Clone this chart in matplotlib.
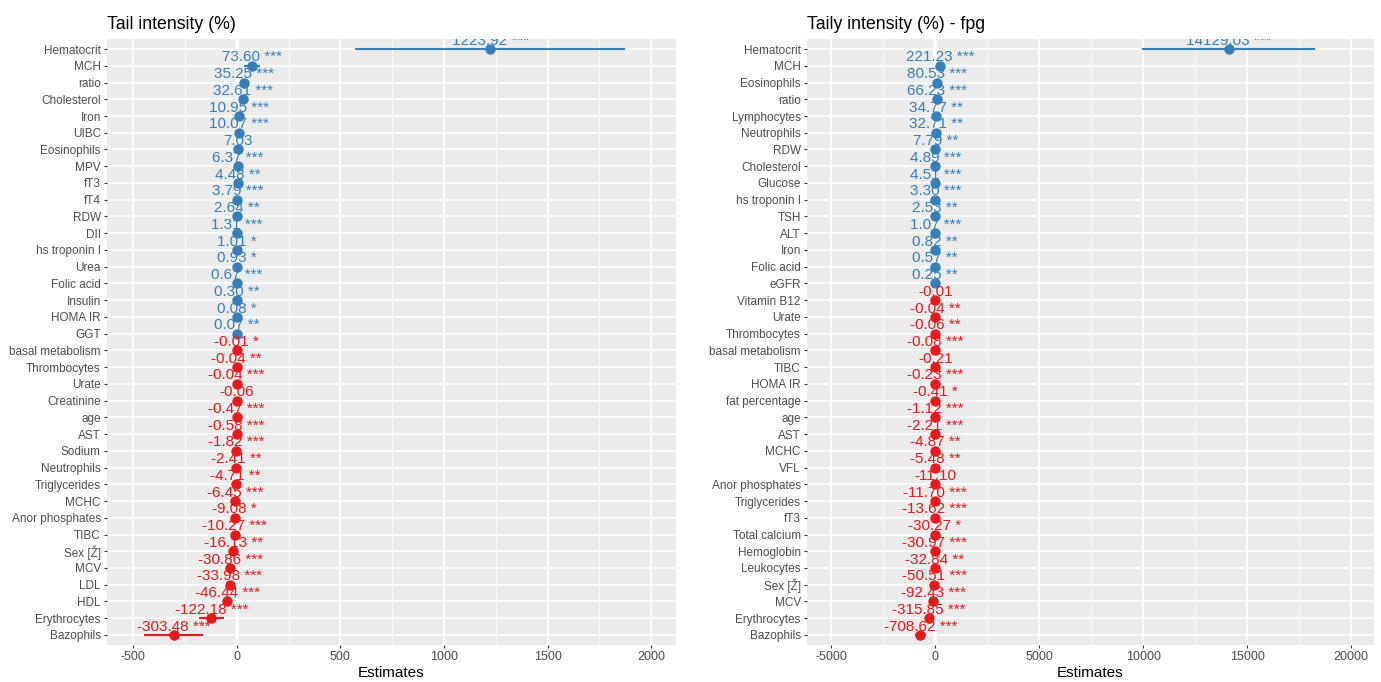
"""
Forest plots of regression estimates for tail intensity models.
"""

import matplotlib
matplotlib.use('Agg')
import matplotlib.pyplot as plt
from matplotlib.ticker import MultipleLocator

CLR_POS = '#377EB8'
CLR_NEG = '#E41A1C'
CLR_BG = '#EBEBEB'
CLR_TICK = '#4D4D4D'

plt.rcParams['font.family'] = ['Liberation Sans', 'DejaVu Sans']
plt.rcParams['axes.unicode_minus'] = False

# ── Tail intensity (%) ─────────────────────────────────────────
terms_tail = [
    'Hematocrit', 'MCH', 'ratio', 'Cholesterol', 'Iron', 'UIBC', 'Eosinophils',
    'MPV', 'fT3', 'fT4', 'RDW', 'DII', 'hs troponin I', 'Urea', 'Folic acid',
    'Insulin', 'HOMA IR', 'GGT', 'basal metabolism', 'Thrombocytes', 'Urate',
    'Creatinine', 'age', 'AST', 'Sodium', 'Neutrophils', 'Triglycerides',
    'MCHC', 'Anor phosphates', 'TIBC', 'Sex [Ž]', 'MCV', 'LDL', 'HDL',
    'Erythrocytes', 'Bazophils',
]
est_tail = [
    1223.92, 73.60, 35.25, 32.61, 10.95, 10.07, 7.03, 6.37, 4.48, 3.79, 2.64,
    1.31, 1.01, 0.93, 0.67, 0.30, 0.08, 0.07, -0.01, -0.04, -0.04, -0.06,
    -0.47, -0.58, -1.82, -2.41, -4.71, -6.45, -9.08, -10.27, -16.13, -30.86,
    -33.98, -46.44, -122.18, -303.48,
]
lo_tail = [
    571.0, 36.5, 20.1, 17.8, 5.2, 4.8, -1.2, 3.5, 1.6, 2.0, 0.9, 0.7, 0.1,
    0.1, 0.4, 0.1, 0.01, 0.02, -0.02, -0.07, -0.06, -0.13, -0.65, -0.85,
    -2.6, -4.0, -7.8, -9.5, -17.3, -14.6, -26.9, -44.1, -47.9, -66.0,
    -181.0, -446.0,
]
hi_tail = [
    1873.0, 110.7, 50.4, 47.4, 16.7, 15.3, 15.3, 9.2, 7.4, 5.6, 4.4, 1.9, 1.9,
    1.8, 0.9, 0.5, 0.15, 0.12, -0.00, -0.01, -0.02, 0.01, -0.29, -0.31,
    -1.0, -0.8, -1.6, -3.4, -0.9, -5.9, -5.4, -17.6, -20.1, -26.9,
    -63.0, -161.0,
]
stars_tail = [
    '***', '***', '***', '***', '***', '***', '', '***', '**', '***', '**',
    '***', '*', '*', '***', '**', '*', '**', '*', '**', '***', '',
    '***', '***', '***', '**', '**', '***', '*', '***', '**', '***',
    '***', '***', '***', '***',
]

# ── Taily intensity (%) - fpg ──────────────────────────────────
terms_fpg = [
    'Hematocrit', 'MCH', 'Eosinophils', 'ratio', 'Lymphocytes', 'Neutrophils',
    'RDW', 'Cholesterol', 'Glucose', 'hs troponin I', 'TSH', 'ALT', 'Iron',
    'Folic acid', 'eGFR', 'Vitamin B12', 'Urate', 'Thrombocytes',
    'basal metabolism', 'TIBC', 'HOMA IR', 'fat percentage', 'age', 'AST',
    'MCHC', 'VFL', 'Anor phosphates', 'Triglycerides', 'fT3', 'Total calcium',
    'Hemoglobin', 'Leukocytes', 'Sex [Ž]', 'MCV', 'Erythrocytes', 'Bazophils',
]
est_fpg = [
    14129.03, 221.23, 80.53, 66.23, 34.77, 32.71, 7.79, 4.89, 4.51, 3.30,
    2.53, 1.07, 0.82, 0.57, 0.25, -0.01, -0.04, -0.06, -0.08, -0.21, -0.23,
    -0.41, -1.12, -2.21, -4.87, -5.48, -11.10, -11.70, -13.62, -30.27,
    -30.97, -32.84, -50.51, -92.43, -315.85, -708.62,
]
lo_fpg = [
    9930.0, 110.0, 35.0, 30.0, 12.0, 11.0, 2.6, 2.7, 2.3, 1.9, 0.8, 0.6, 0.3,
    0.2, 0.08, -0.02, -0.07, -0.10, -0.12, -0.45, -0.34, -0.78, -1.6, -3.0,
    -8.1, -9.2, -24.5, -17.0, -19.8, -56.8, -45.2, -54.1, -74.3, -131.5,
    -452.0, -980.0,
]
hi_fpg = [
    18240.0, 332.0, 126.0, 102.0, 57.0, 54.0, 13.0, 7.1, 6.7, 4.7, 4.3, 1.6,
    1.3, 0.9, 0.42, 0.00, -0.01, -0.02, -0.04, 0.03, -0.12, -0.04, -0.6,
    -1.4, -1.6, -1.8, 2.3, -6.4, -7.4, -3.7, -16.7, -11.6, -26.7, -53.4,
    -180.0, -437.0,
]
stars_fpg = [
    '***', '***', '***', '***', '**', '**', '**', '***', '***', '***', '**',
    '***', '**', '**', '**', '', '**', '**', '***', '', '***', '*', '***',
    '***', '**', '**', '', '***', '***', '*', '***', '**', '***', '***',
    '***', '***',
]


def forest(ax, title, terms, est, lo, hi, stars, xlim, major, minor):
    ax.set_facecolor(CLR_BG)
    for s in ax.spines.values():
        s.set_visible(False)

    ypos = list(range(len(terms)))
    ax.set_xlim(*xlim)
    ax.set_ylim(len(terms) - 1 + 0.6, -0.6)

    ax.xaxis.set_major_locator(MultipleLocator(major))
    ax.xaxis.set_minor_locator(MultipleLocator(minor))
    ax.grid(which='major', axis='x', color='white', lw=1.1, zorder=0)
    ax.grid(which='minor', axis='x', color='white', lw=0.55, zorder=0)
    ax.grid(which='major', axis='y', color='white', lw=1.1, zorder=0)
    ax.set_axisbelow(True)
    ax.axvline(0, color='white', lw=2.6, zorder=1)

    ax.set_yticks(ypos)
    ax.set_yticklabels(terms)
    ax.tick_params(axis='both', which='major', length=2.5, width=0.8,
                   color='#333333', labelcolor=CLR_TICK, pad=2)
    ax.tick_params(axis='y', labelsize=8.5)
    ax.tick_params(axis='x', labelsize=9)
    ax.tick_params(axis='x', which='minor', length=0)

    for y, e, l, h, st in zip(ypos, est, lo, hi, stars):
        c = CLR_POS if e > 0 else CLR_NEG
        ax.plot([l, h], [y, y], color=c, lw=1.5, solid_capstyle='butt', zorder=3)
        ax.plot(e, y, 'o', color=c, ms=6.5, zorder=4)
        lbl = f'{e:.2f} {st}'.rstrip()
        ax.text(e, y - 0.5, lbl, ha='center', va='center', fontsize=11,
                color=c, clip_on=True, zorder=5)

    ax.set_xlabel('Estimates', fontsize=11, color='black', labelpad=2)
    ax.set_title(title, loc='left', fontsize=12.8, pad=7)


fig = plt.figure(figsize=(13.81, 6.82), dpi=100)
ax1 = fig.add_axes([107 / 1381, 1 - 645 / 682, 569 / 1381, 606 / 682])
ax2 = fig.add_axes([807 / 1381, 1 - 645 / 682, 567 / 1381, 606 / 682])

forest(ax1, 'Tail intensity (%)', terms_tail, est_tail, lo_tail, hi_tail,
       stars_tail, (-626, 2120), 500, 250)
forest(ax2, 'Taily intensity (%) - fpg', terms_fpg, est_fpg, lo_fpg, hi_fpg,
       stars_fpg, (-6166, 21100), 5000, 2500)

fig.savefig('out.png', dpi=100, facecolor='white')
plt.close(fig)
